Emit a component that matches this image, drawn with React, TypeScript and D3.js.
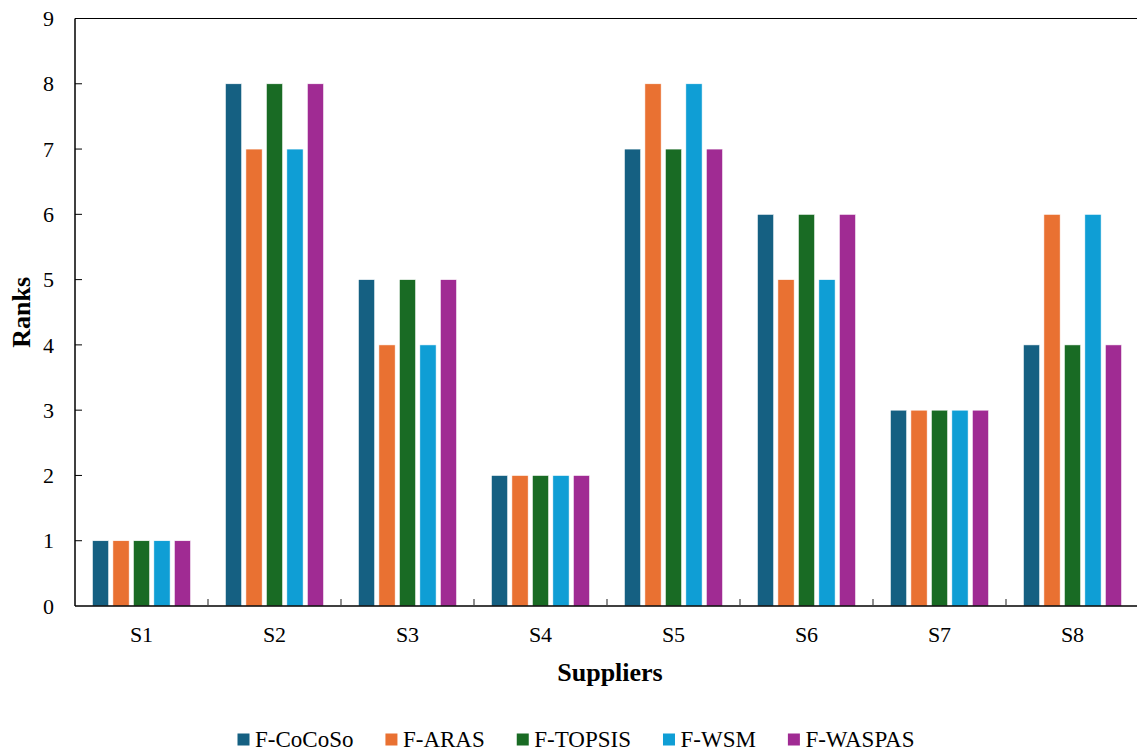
import React, { useEffect, useRef } from 'react';
import * as d3 from 'd3';

// Supplier ranks under five fuzzy MCDM methods.
const suppliers = ['S1', 'S2', 'S3', 'S4', 'S5', 'S6', 'S7', 'S8'];
const methods = ['F-CoCoSo', 'F-ARAS', 'F-TOPSIS', 'F-WSM', 'F-WASPAS'];
const methodColors = ['#156082', '#E97132', '#196B24', '#0F9ED5', '#A02B93'];

const cocoso = [1, 8, 5, 2, 7, 6, 3, 4];
const aras = [1, 7, 4, 2, 8, 5, 3, 6];
const topsis = [1, 8, 5, 2, 7, 6, 3, 4];
const wsm = [1, 7, 4, 2, 8, 5, 3, 6];
const waspas = [1, 8, 5, 2, 7, 6, 3, 4];
const seriesValues = [cocoso, aras, topsis, wsm, waspas];

const yTicks = [0, 1, 2, 3, 4, 5, 6, 7, 8, 9];

const WIDTH = 1137;
const HEIGHT = 752;
const LEFT = 75;
const RIGHT = 1139;
const TOP = 18.5;
const BOTTOM = 606;
const FONT = "'Liberation Serif', 'Times New Roman', Times, serif";

export default function App() {
  const svgRef = useRef<SVGSVGElement>(null);

  useEffect(() => {
    const svg = d3.select(svgRef.current).attr('width', WIDTH).attr('height', HEIGHT);
    svg.selectAll('*').remove();
    svg.append('rect').attr('width', WIDTH).attr('height', HEIGHT).attr('fill', 'white');

    const root = svg.append('g').style('font-family', FONT);

    const x = d3.scaleBand().domain(suppliers).range([LEFT, RIGHT]).paddingInner(0).paddingOuter(0);
    const inner = d3
      .scaleBand()
      .domain(methods)
      .range([0, x.bandwidth()])
      .paddingOuter(0.85)
      .paddingInner(0.205);
    const y = d3.scaleLinear().domain([0, 9]).range([BOTTOM, TOP]);

    // Bars, grouped by supplier.
    const rows = suppliers.flatMap((s, i) =>
      methods.map((m, j) => ({ s, m, j, v: seriesValues[j][i] })),
    );
    root
      .append('g')
      .selectAll('rect')
      .data(rows)
      .enter()
      .append('rect')
      .attr('x', (d) => (x(d.s) ?? 0) + (inner(d.m) ?? 0))
      .attr('y', (d) => y(d.v))
      .attr('width', inner.bandwidth())
      .attr('height', (d) => BOTTOM - y(d.v))
      .attr('fill', (d) => methodColors[d.j])
      .attr('stroke', 'white')
      .attr('stroke-width', 0.6);

    // Frame lines: left, bottom, top.
    const axisColor = '#000';
    root.append('line').attr('x1', LEFT).attr('x2', LEFT).attr('y1', TOP).attr('y2', BOTTOM)
      .attr('stroke', axisColor).attr('stroke-width', 1.5);
    root.append('line').attr('x1', LEFT).attr('x2', RIGHT).attr('y1', BOTTOM).attr('y2', BOTTOM)
      .attr('stroke', axisColor).attr('stroke-width', 1.5);
    root.append('line').attr('x1', LEFT).attr('x2', RIGHT).attr('y1', TOP).attr('y2', TOP)
      .attr('stroke', axisColor).attr('stroke-width', 1.2);

    // Y ticks (inward) and labels.
    const yg = root.append('g');
    yTicks.forEach((t) => {
      if (t > 0 && t < 9) {
        yg.append('line').attr('x1', LEFT).attr('x2', LEFT + 7).attr('y1', y(t)).attr('y2', y(t))
          .attr('stroke', axisColor).attr('stroke-width', 1);
      }
      yg.append('text')
        .attr('x', 54)
        .attr('y', y(t))
        .attr('dy', '0.35em')
        .attr('text-anchor', 'end')
        .attr('font-size', '22px')
        .attr('fill', '#000')
        .text(t);
    });

    // X ticks at category boundaries (inward) and labels.
    const xg = root.append('g');
    suppliers.forEach((s, i) => {
      if (i > 0) {
        const bx = x(s) ?? 0;
        xg.append('line').attr('x1', bx).attr('x2', bx).attr('y1', BOTTOM).attr('y2', BOTTOM - 7)
          .attr('stroke', '#444').attr('stroke-width', 1.2);
      }
      xg.append('text')
        .attr('x', (x(s) ?? 0) + x.bandwidth() / 2)
        .attr('y', 642)
        .attr('text-anchor', 'middle')
        .attr('font-size', '22px')
        .attr('fill', '#000')
        .text(s);
    });

    // Axis titles.
    root.append('text')
      .attr('x', 610)
      .attr('y', 681)
      .attr('text-anchor', 'middle')
      .attr('font-weight', 'bold')
      .attr('font-size', '26px')
      .text('Suppliers');
    root.append('text')
      .attr('transform', `translate(30,${(TOP + BOTTOM) / 2}) rotate(-90)`)
      .attr('text-anchor', 'middle')
      .attr('font-weight', 'bold')
      .attr('font-size', '26px')
      .text('Ranks');

    // Legend laid out left to right from measured text widths.
    const lg = root.append('g');
    let cx = 237.5;
    methods.forEach((m, j) => {
      lg.append('rect').attr('x', cx).attr('y', 733.5).attr('width', 12).attr('height', 12)
        .attr('fill', methodColors[j]);
      const t = lg.append('text')
        .attr('x', cx + 17.5)
        .attr('y', 747)
        .attr('font-size', '23px')
        .attr('fill', '#000')
        .text(m);
      const w = (t.node() as SVGTextElement).getComputedTextLength();
      cx += 17.5 + w + 32;
    });
  }, []);

  return (
    <svg
      ref={svgRef}
      style={{ display: 'block', position: 'absolute', left: 0, top: 0 }}
    />
  );
}
